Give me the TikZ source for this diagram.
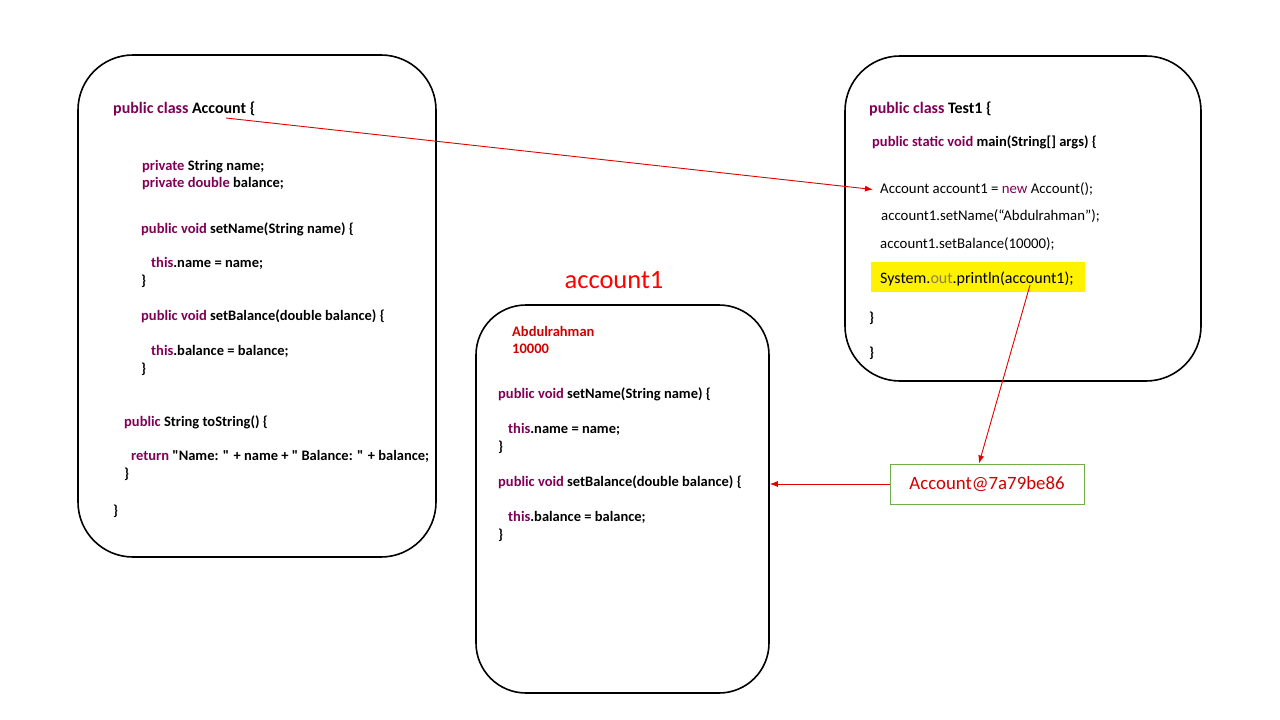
\documentclass[tikz,border=0pt]{standalone}
\usepackage{fontspec}
\setmainfont{Carlito}
\usetikzlibrary{arrows.meta}

\definecolor{kwcol}{HTML}{7F0055}
\definecolor{linkred}{HTML}{E00000}
\definecolor{valred}{HTML}{D00000}
\definecolor{boxgreen}{HTML}{70AD47}
\definecolor{outcol}{HTML}{8A7F50}
\newcommand{\kw}[1]{\textcolor{kwcol}{#1}}
\newcommand{\dq}{\textquotedbl}

\tikzset{
  code/.style={anchor=west, inner sep=0pt, yshift=-1.5pt, font=\fontsize{14.5}{17}\selectfont\bfseries},
  plaincode/.style={code, font=\fontsize{14.8}{17}\selectfont},
  headcode/.style={code, font=\fontsize{16}{19}\selectfont\bfseries},
  roundbox/.style={draw, line width=1.6pt, rounded corners=55pt},
  link/.style={draw=linkred, line width=0.9pt, -{Latex[length=8pt,width=6pt]}},
}

\begin{document}
\begin{tikzpicture}[x=1pt, y=-1pt]
  \useasboundingbox (0,0) rectangle (1280,720);

  % class Account
  \node[roundbox, minimum width=358pt, minimum height=502pt] (classbox) at (257,306) {};
  \node[headcode] (hdr) at (113,107) {\kw{public class} Account \{};
  \node[code] (fname) at (142,165) {\kw{private} String name;};
  \node[code] (fbal) at (142,182) {\kw{private double} balance;};
  \node[code] (sname) at (141,228) {\kw{public void} setName(String name) \{};
  \node[code] (sname2) at (151,262) {\kw{this}.name = name;};
  \node[code] (sname3) at (141,280) {\}};
  \node[code] (sbal) at (141,315) {\kw{public void} setBalance(double balance) \{};
  \node[code] (sbal2) at (151,350) {\kw{this}.balance = balance;};
  \node[code] (sbal3) at (141,368) {\}};
  \node[code] (tostr) at (124,421) {\kw{public} String toString() \{};
  \node[code] (tostr2) at (131,455) {\kw{return} \dq Name: \dq{} + name + \dq{} Balance: \dq{} + balance;};
  \node[code] (tostr3) at (124,473) {\}};
  \node[code] (clend) at (113,510) {\}};

  % class Test1
  \node[roundbox, minimum width=356pt, minimum height=325pt] (testbox) at (1023,218.5) {};
  \node[headcode] (thdr) at (869,107) {\kw{public class} Test1 \{};
  \node[code] (tmain) at (872,141) {\kw{public static void} main(String[] args) \{};
  \node[plaincode] (newln) at (880,188) {Account account1 = \kw{new} Account();};
  \node[plaincode] (setn) at (881,215) {account1.setName(“Abdulrahman”);};
  \node[plaincode] (setb) at (880,243) {account1.setBalance(10000);};
  \node[fill=yellow, inner sep=0pt, minimum width=214pt, minimum height=30pt, anchor=west] (hilite) at (871,277) {};
  \node[plaincode, font=\fontsize{16}{19}\selectfont] (prnt) at (880,277) {System.\textcolor{outcol}{out}.println(account1);};
  \node[code] (tend1) at (869,317) {\}};
  \node[code] (tend2) at (869,352) {\}};

  % object account1
  \node[text=red, inner sep=0pt, font=\fontsize{26.5}{30}\selectfont] (objname) at (614,280) {account1};
  \node[roundbox, rounded corners=50pt, minimum width=293pt, minimum height=388pt] (objbox) at (622.5,499) {};
  \node[code, text=valred] (vname) at (512,330) {Abdulrahman};
  \node[code, text=valred] (vbal) at (512,347) {10000};
  \node[code] (osn) at (498,393) {\kw{public void} setName(String name) \{};
  \node[code] (osn2) at (508,428) {\kw{this}.name = name;};
  \node[code] (osn3) at (498,446) {\}};
  \node[code] (osb) at (498,481) {\kw{public void} setBalance(double balance) \{};
  \node[code] (osb2) at (508,516) {\kw{this}.balance = balance;};
  \node[code] (osb3) at (498,534) {\}};

  % printed reference
  \node[draw=boxgreen, line width=1pt, minimum width=194pt, minimum height=40pt, text=valred,
        font=\fontsize{18.8}{22}\selectfont] (addr) at (987,484) {Account@7a79be86};

  \coordinate (hdrpt) at (226,118);
  \coordinate (prntpt) at (1030,285);
  \draw[link] (hdrpt) -- ([xshift=-7pt]newln.west);
  \draw[link] (prntpt) -- ([xshift=-8pt]addr.north);
  \draw[link] (addr.west) -- (addr.west -| objbox.east);
\end{tikzpicture}
\end{document}
